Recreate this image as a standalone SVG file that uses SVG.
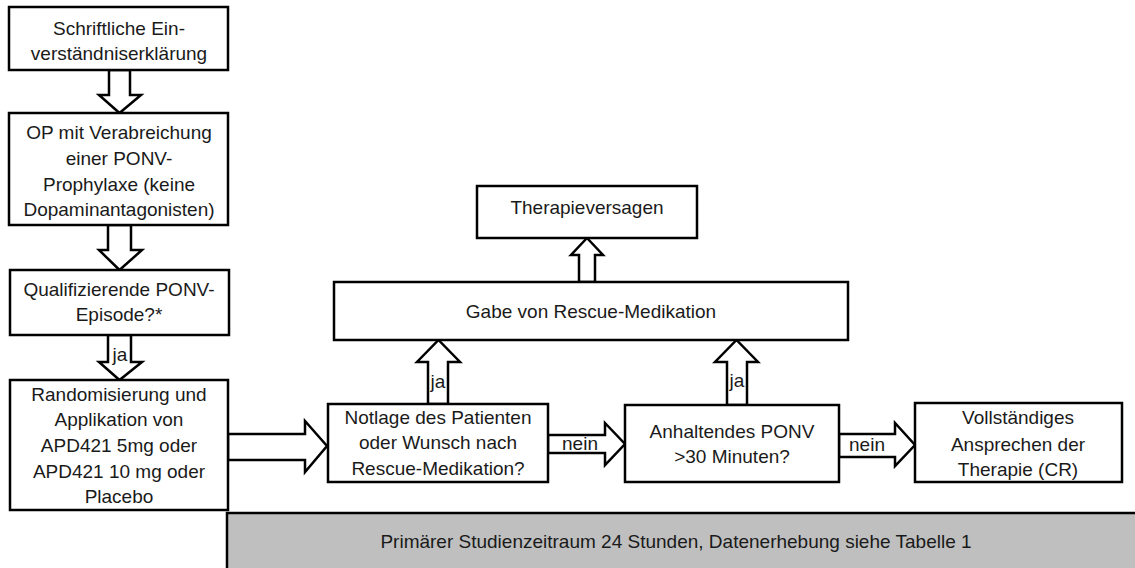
<svg xmlns="http://www.w3.org/2000/svg" width="1135" height="568" viewBox="0 0 1135 568">
<style>
.box{fill:#fff;stroke:#000;stroke-width:2.5}
.arr{fill:#fff;stroke:#000;stroke-width:2.5;stroke-linejoin:miter}
text{font-family:"Liberation Sans",Arial,sans-serif;font-size:19px;fill:#1a1a1a;text-anchor:middle}
</style>
<rect width="1135" height="568" fill="#fff"/>
<g id="n_period">
<rect x="227" y="513" width="912" height="60" fill="#bfbfbf" stroke="#000" stroke-width="2.5"/>
<text x="676" y="548">Primärer Studienzeitraum 24 Stunden, Datenerhebung siehe Tabelle 1</text>
</g>
<g id="connectors">
<polygon class="arr" points="109,70 130,70 130,95 141,95 119.5,113 99,95 109,95"/>
<polygon class="arr" points="108,225 131,225 131,250 142,250 119.5,270 99,250 108,250"/>
<polygon class="arr" points="108,335 131,335 131,362 142,362 119.5,380 99,362 108,362"/>
<text x="120" y="361">ja</text>
<polygon class="arr" points="228,434 305,434 305,421 327,446 305,472 305,460 228,460"/>
<polygon class="arr" points="548,435 605,435 605,423 625,444 605,465 605,453 548,453"/>
<text x="580" y="450">nein</text>
<polygon class="arr" points="839,434 895,434 895,423 915,445 895,466 895,457 839,457"/>
<text x="867" y="451">nein</text>
<polygon class="arr" points="428,404 428,362 417,362 438.5,340 460,362 448,362 448,404"/>
<text x="438" y="388">ja</text>
<polygon class="arr" points="727,405 727,362 715,362 736.5,340 758,362 747,362 747,405"/>
<text x="737" y="387">ja</text>
<polygon class="arr" points="579,282 579,255 571,255 587,238 603,255 595,255 595,282"/>
</g>
<g id="n_consent">
<rect class="box" x="9" y="7" width="219" height="63"/>
<text x="119" y="35">Schriftliche Ein-</text>
<text x="119" y="60">verständniserklärung</text>
</g>
<g id="n_op">
<rect class="box" x="9" y="113" width="219" height="112"/>
<text x="119" y="139">OP mit Verabreichung</text>
<text x="119" y="165">einer PONV-</text>
<text x="119" y="191">Prophylaxe (keine</text>
<text x="119" y="216">Dopaminantagonisten)</text>
</g>
<g id="n_episode">
<rect class="box" x="10" y="270" width="219" height="65"/>
<text x="119" y="296">Qualifizierende PONV-</text>
<text x="119" y="321">Episode?*</text>
</g>
<g id="n_random">
<rect class="box" x="10" y="380" width="218" height="130"/>
<text x="119" y="401">Randomisierung und</text>
<text x="119" y="426">Applikation von</text>
<text x="119" y="452">APD421 5mg oder</text>
<text x="119" y="478">APD421 10 mg oder</text>
<text x="119" y="503">Placebo</text>
</g>
<g id="n_notlage">
<rect class="box" x="328" y="404" width="220" height="78"/>
<text x="438" y="424">Notlage des Patienten</text>
<text x="438" y="449">oder Wunsch nach</text>
<text x="438" y="475">Rescue-Medikation?</text>
</g>
<g id="n_anhaltend">
<rect class="box" x="625" y="405" width="214" height="77"/>
<text x="732" y="438">Anhaltendes PONV</text>
<text x="732" y="463">&gt;30 Minuten?</text>
</g>
<g id="n_cr">
<rect class="box" x="915" y="403" width="207" height="79"/>
<text x="1018" y="424">Vollständiges</text>
<text x="1018" y="451">Ansprechen der</text>
<text x="1018" y="476">Therapie (CR)</text>
</g>
<g id="n_rescue">
<rect class="box" x="334" y="282" width="514" height="58"/>
<text x="591" y="318">Gabe von Rescue-Medikation</text>
</g>
<g id="n_failure">
<rect class="box" x="477" y="186" width="220" height="52"/>
<text x="587" y="214">Therapieversagen</text>
</g>
</svg>
